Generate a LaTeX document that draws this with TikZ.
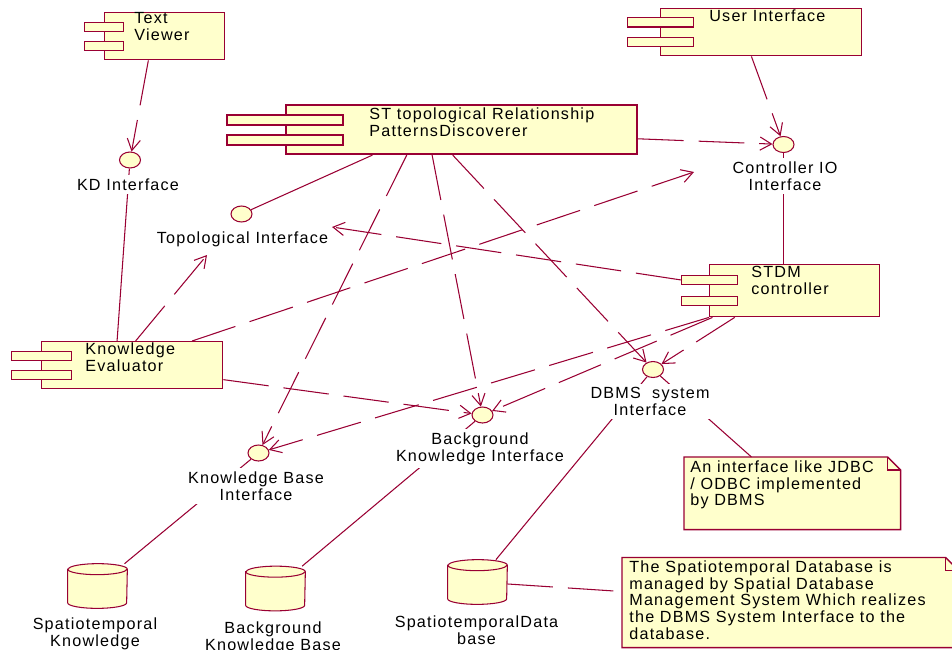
\documentclass[tikz,border=0pt]{standalone}
\usepackage{fontspec}
\setmainfont{Liberation Sans}[LetterSpace=7.5]
\usetikzlibrary{shapes.geometric, arrows.meta, backgrounds}
\definecolor{roseline}{RGB}{153,0,51}
\definecolor{rosefill}{RGB}{255,255,204}

\begin{document}
\begin{tikzpicture}[x=0.02cm, y=-0.02cm,
  every node/.style={font=\fontsize{9.2}{9.64}\selectfont},
  compbody/.style={draw=roseline, fill=rosefill, line width=0.8pt, rectangle, anchor=north west, inner sep=0pt},
  compport/.style={compbody, minimum height=0.19cm},
  comptext/.style={anchor=north west, align=left, inner sep=0pt},
  iface/.style={draw=roseline, fill=rosefill, line width=0.6pt, ellipse, inner sep=0pt, minimum width=0.42cm, minimum height=0.32cm},
  ilabel/.style={anchor=north, align=center, fill=white, inner sep=2pt},
  dbarea/.style={rectangle, inner sep=0pt, minimum width=1.18cm, minimum height=0.88cm},
  dbline/.style={draw=roseline, fill=rosefill, line width=0.6pt},
  notearea/.style={rectangle, anchor=north west, inner sep=0pt},
  notebox/.style={draw=roseline, fill=rosefill, line width=0.8pt},
  link/.style={draw=roseline, line width=0.6pt},
  dep/.style={link, dash pattern=on 26pt off 8.5pt, -{Straight Barb[length=6.5pt,width=7.5pt]}}
]
\useasboundingbox (0,0) rectangle (952,649);

% Components
\node[compbody, minimum width=2.4cm, minimum height=0.94cm] (tv) at (104,12) {};
\node[compport, minimum width=0.78cm] (tvp1) at (84,21.5) {};
\node[compport, minimum width=0.78cm] (tvp2) at (84,40.5) {};
\node[comptext] (tvt) at (134,12) {Text\\Viewer};

\node[compbody, minimum width=4.02cm, minimum height=0.94cm] (ui) at (660,8) {};
\node[compport, minimum width=1.32cm] (uip1) at (627,17) {};
\node[compport, minimum width=1.32cm] (uip2) at (627,36.5) {};
\node[comptext] (uit) at (709,9) {User Interface};

\node[compbody, line width=1.2pt, minimum width=7.02cm, minimum height=0.98cm] (st) at (285,104) {};
\node[compport, line width=1.2pt, minimum width=2.32cm] (stp1) at (226,114) {};
\node[compport, line width=1.2pt, minimum width=2.32cm] (stp2) at (226,134) {};
\node[comptext] (stt) at (369,107) {ST topological Relationship\\PatternsDiscoverer};

\node[compbody, minimum width=3.62cm, minimum height=0.94cm] (ke) at (41,341) {};
\node[compport, minimum width=1.2cm] (kep1) at (11,350.5) {};
\node[compport, minimum width=1.2cm] (kep2) at (11,369.5) {};
\node[comptext] (ket) at (85,342) {Knowledge\\Evaluator};

\node[compbody, minimum width=3.4cm, minimum height=1.04cm] (stdm) at (709,264) {};
\node[compport, minimum width=1.12cm] (stdmp1) at (681,274.5) {};
\node[compport, minimum width=1.12cm] (stdmp2) at (681,295.5) {};
\node[comptext] (stdmt) at (751,266) {STDM\\controller};

% Interfaces
\node[iface] (kdi) at (130,160) {};
\node[iface] (topi) at (241.5,214) {};
\node[iface] (cio) at (783.5,144.5) {};
\node[iface] (dbi) at (653,369.5) {};
\node[iface] (bki) at (482.5,415) {};
\node[iface] (kbi) at (258.5,453) {};

% Databases
\node[dbarea] (skdb) at (97.5,586) {};
\node[dbarea] (bkdb) at (275.5,588.5) {};
\node[dbarea] (stdb) at (477.5,582) {};
\foreach \d in {skdb,bkdb,stdb} {
  \filldraw[dbline] ([yshift=-0.11cm]\d.north west) -- ([yshift=0.11cm]\d.south west)
    arc[start angle=180, end angle=360, x radius=0.59cm, y radius=0.11cm]
    -- ([yshift=-0.11cm]\d.north east)
    arc[start angle=0, end angle=180, x radius=0.59cm, y radius=0.11cm] -- cycle;
  \draw[dbline, fill=none] ([yshift=-0.11cm]\d.north west)
    arc[start angle=180, end angle=360, x radius=0.59cm, y radius=0.11cm];
}

% Notes
\node[notearea, minimum width=4.32cm, minimum height=1.44cm] (note1) at (684,457) {};
\node[comptext] (note1t) at (690,460) {An interface like JDBC\\/ ODBC implemented\\by DBMS};
\node[notearea, minimum width=6.72cm, minimum height=1.79cm] (note2) at (622,557.5) {};
\node[comptext] (note2t) at (629,560) {The Spatiotemporal Database is\\managed by Spatial Database\\Management System Which realizes\\the DBMS System Interface to the\\database.};
\begin{scope}[on background layer]
\filldraw[notebox] (note1.north west) -- ([xshift=-0.26cm]note1.north east) -- ([yshift=-0.26cm]note1.north east) -- (note1.south east) -- (note1.south west) -- cycle;
\draw[link, line width=0.8pt] ([xshift=-0.26cm]note1.north east) |- ([yshift=-0.26cm]note1.north east);
\filldraw[notebox] (note2.north west) -- ([xshift=-0.26cm]note2.north east) -- ([yshift=-0.26cm]note2.north east) -- (note2.south east) -- (note2.south west) -- cycle;
\draw[link, line width=0.8pt] ([xshift=-0.26cm]note2.north east) |- ([yshift=-0.26cm]note2.north east);
\end{scope}

% Connectors
\draw[dep] (tv.236) -- (kdi);
\draw[dep] (ui.248) -- (cio);
\draw[dep] (st.-3) -- (cio);
\draw[link] (kdi) -- (ke.122);
\draw[link] (st.196) -- (topi);
\draw[link] (cio) -- (cio |- stdm.north);
\draw[dep] (st.205) -- (kbi);
\draw[dep] (st.221) -- (bki);
\draw[dep] (st.251) -- (dbi);
\draw[dep] (stdm.204) -- (dbi);
\draw[dep] (stdm.198) -- (bki);
\draw[dep] (stdm.south west) -- (kbi);
\draw[dep] (ke.-9) -- (bki);
\draw[link] (kbi) -- (skdb);
\draw[link] (bki) -- (bkdb);
\draw[link] (dbi) -- (stdb);
\draw[link] (dbi) -- (note1);
\draw[link, dash pattern=on 26pt off 8.5pt] (stdb) -- (note2);

% Labels
\node[ilabel] (kdil) at (128,174.5) {KD Interface};
\node[ilabel] (topil) at (242.5,227.5) {Topological Interface};
\node[ilabel] (ciol) at (785,157.5) {Controller IO\\Interface};
\node[ilabel] (dbil) at (650,383.5) {DBMS\ \ system\\Interface};
\node[ilabel] (bkil) at (480,428.5) {Background\\Knowledge Interface};
\node[ilabel] (kbil) at (256,467.5) {Knowledge Base\\Interface};
\node[ilabel] (skl) at (95,613.5) {Spatiotemporal\\Knowledge};
\node[ilabel] (bkbl) at (273,617.5) {Background\\Knowledge Base};
\node[ilabel] (stdl) at (476.5,611.5) {SpatiotemporalData\\base};

% Arrows stopping at labels
\coordinate (topin) at (207,255);
\coordinate (topin2) at (332,227);
\coordinate (cioin) at (694,172);
\draw[dep] (ke.82) -- (topin);
\draw[dep] (stdmp1.west) -- (topin2);
\draw[dep] (ke.22) -- (cioin);
\end{tikzpicture}
\end{document}
